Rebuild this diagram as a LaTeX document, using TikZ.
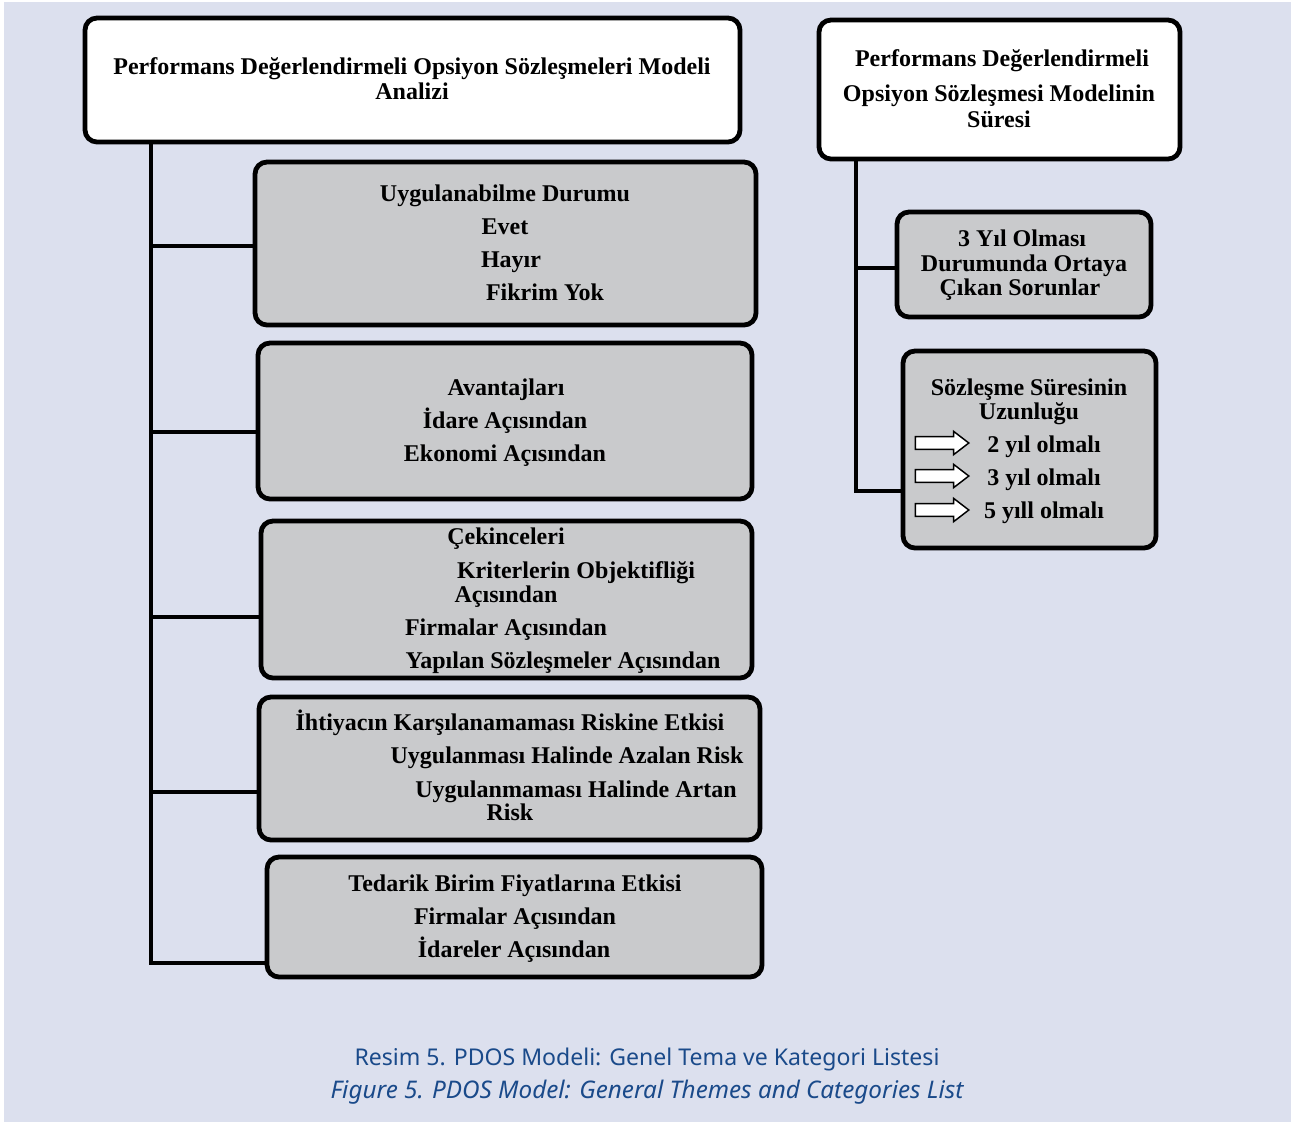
\documentclass[tikz,border=0pt]{standalone}
\usepackage{fontspec}
\setmainfont{Liberation Serif}
\newfontfamily\capfont{Noto Sans}
\usetikzlibrary{fit,shapes.arrows}

\definecolor{pagebg}{HTML}{DCE0EE}
\definecolor{boxgray}{HTML}{C9CACC}
\definecolor{capblue}{HTML}{1A4A8A}

\tikzset{
  headbox/.style={draw, line width=3.6pt, rounded corners=9pt, fill=white, inner sep=0pt},
  catbox/.style={headbox, fill=boxgray},
  conn/.style={line width=3.6pt},
  lbl/.style={font=\bfseries\fontsize{18}{20}\selectfont, inner sep=0pt, anchor=base},
  caplbl/.style={font=\capfont\fontsize{17.3}{20}\selectfont, text=capblue, inner sep=0pt, anchor=base},
  durarrow/.style={single arrow, draw, fill=white, line width=1.1pt, inner xsep=0pt, inner ysep=4.2pt,
    minimum height=40pt, single arrow head extend=4pt,
    single arrow tip angle=75}
}

\begin{document}
\begin{tikzpicture}[x=0.75pt, y=-0.75pt]
    % page and background
    \useasboundingbox (0,0) rectangle (1295,1122);
    \fill[pagebg] (4,2) rectangle (1291,1122);

    % left column: model analysis
    \node[headbox, fit={(85,18) (740,142)}] (main) {};
    \node[lbl] (mainA) at (412,74) {Performans Değerlendirmeli Opsiyon Sözleşmeleri Modeli};
    \node[lbl] (mainB) at (412,99) {Analizi};

    \node[catbox, fit={(255,162) (756,325)}] (b1) {};
    \node[lbl] (b1a) at (505,201) {Uygulanabilme Durumu};
    \node[lbl] (b1b) at (505,234) {Evet};
    \node[lbl] (b1c) at (511,267) {Hayır};
    \node[lbl] (b1d) at (545,300) {Fikrim Yok};

    \node[catbox, fit={(258,343) (752,499)}] (b2) {};
    \node[lbl] (b2a) at (506,395) {Avantajları};
    \node[lbl] (b2b) at (505,428) {İdare Açısından};
    \node[lbl] (b2c) at (505,461) {Ekonomi Açısından};

    \node[catbox, fit={(261,521) (752,678)}] (b3) {};
    \node[lbl] (b3a) at (506,544) {Çekinceleri};
    \node[lbl] (b3b) at (576,578) {Kriterlerin Objektifliği};
    \node[lbl] (b3c) at (506,602) {Açısından};
    \node[lbl] (b3d) at (506,635) {Firmalar Açısından};
    \node[lbl] (b3e) at (563,668) {Yapılan Sözleşmeler Açısından};

    \node[catbox, fit={(259,697) (760,840)}] (b4) {};
    \node[lbl] (b4a) at (510,730) {İhtiyacın Karşılanamaması Riskine Etkisi};
    \node[lbl] (b4b) at (567,763) {Uygulanması Halinde Azalan Risk};
    \node[lbl] (b4c) at (576,797) {Uygulanmaması Halinde Artan};
    \node[lbl] (b4d) at (510,820) {Risk};

    \node[catbox, fit={(267,857) (762,977)}] (b5) {};
    \node[lbl] (b5a) at (515,891) {Tedarik Birim Fiyatlarına Etkisi};
    \node[lbl] (b5b) at (515,924) {Firmalar Açısından};
    \node[lbl] (b5c) at (514,957) {İdareler Açısından};

    % left trunk and branches
    \coordinate (trunkL) at (151,142);
    \coordinate (j1) at (151,246);
    \coordinate (j2) at (151,432);
    \coordinate (j3) at (151,617);
    \coordinate (j4) at (151,792);
    \coordinate (j5) at (151,963);
    \draw[conn] (trunkL) -- (j5) -- (j5 -| b5.west);
    \draw[conn] (j1) -- (j1 -| b1.west);
    \draw[conn] (j2) -- (j2 -| b2.west);
    \draw[conn] (j3) -- (j3 -| b3.west);
    \draw[conn] (j4) -- (j4 -| b4.west);

    % right column: contract duration
    \node[headbox, fit={(819,20) (1180,159)}] (dur) {};
    \node[lbl] (durA) at (1002,66) {Performans Değerlendirmeli};
    \node[lbl] (durB) at (999,101) {Opsiyon Sözleşmesi Modelinin};
    \node[lbl] (durC) at (999,127) {Süresi};

    \node[catbox, fit={(897,212) (1151,317)}] (r1) {};
    \node[lbl] (r1a) at (1022,246) {3 Yıl Olması};
    \node[lbl] (r1b) at (1024,271) {Durumunda Ortaya};
    \node[lbl] (r1c) at (1020,295) {Çıkan Sorunlar};

    \node[catbox, fit={(903,351) (1156,548)}] (r2) {};
    \node[lbl] (r2a) at (1029,395) {Sözleşme Süresinin};
    \node[lbl] (r2b) at (1029,419) {Uzunluğu};
    \node[durarrow] (ar1) at (938,443) {};
    \node[durarrow] (ar2) at (938,476) {};
    \node[durarrow] (ar3) at (938,510) {};
    \node[lbl] (r2c) at (1044,452) {2 yıl olmalı};
    \node[lbl] (r2d) at (1044,485) {3 yıl olmalı};
    \node[lbl] (r2e) at (1044,518) {5 yıll olmalı};

    % right trunk and branches
    \coordinate (trunkR) at (856,159);
    \coordinate (k1) at (856,268);
    \coordinate (k2) at (856,491);
    \draw[conn] (trunkR) -- (k2) -- (k2 -| r2.west);
    \draw[conn] (k1) -- (k1 -| r1.west);

    % caption
    \node[caplbl] (capTR) at (647,1065) {Resim 5. PDOS Modeli: Genel Tema ve Kategori Listesi};
    \node[caplbl, font=\capfont\itshape\fontsize{18.2}{21}\selectfont] (capEN) at (647,1098) {Figure 5. PDOS Model: General Themes and Categories List};
\end{tikzpicture}
\end{document}
